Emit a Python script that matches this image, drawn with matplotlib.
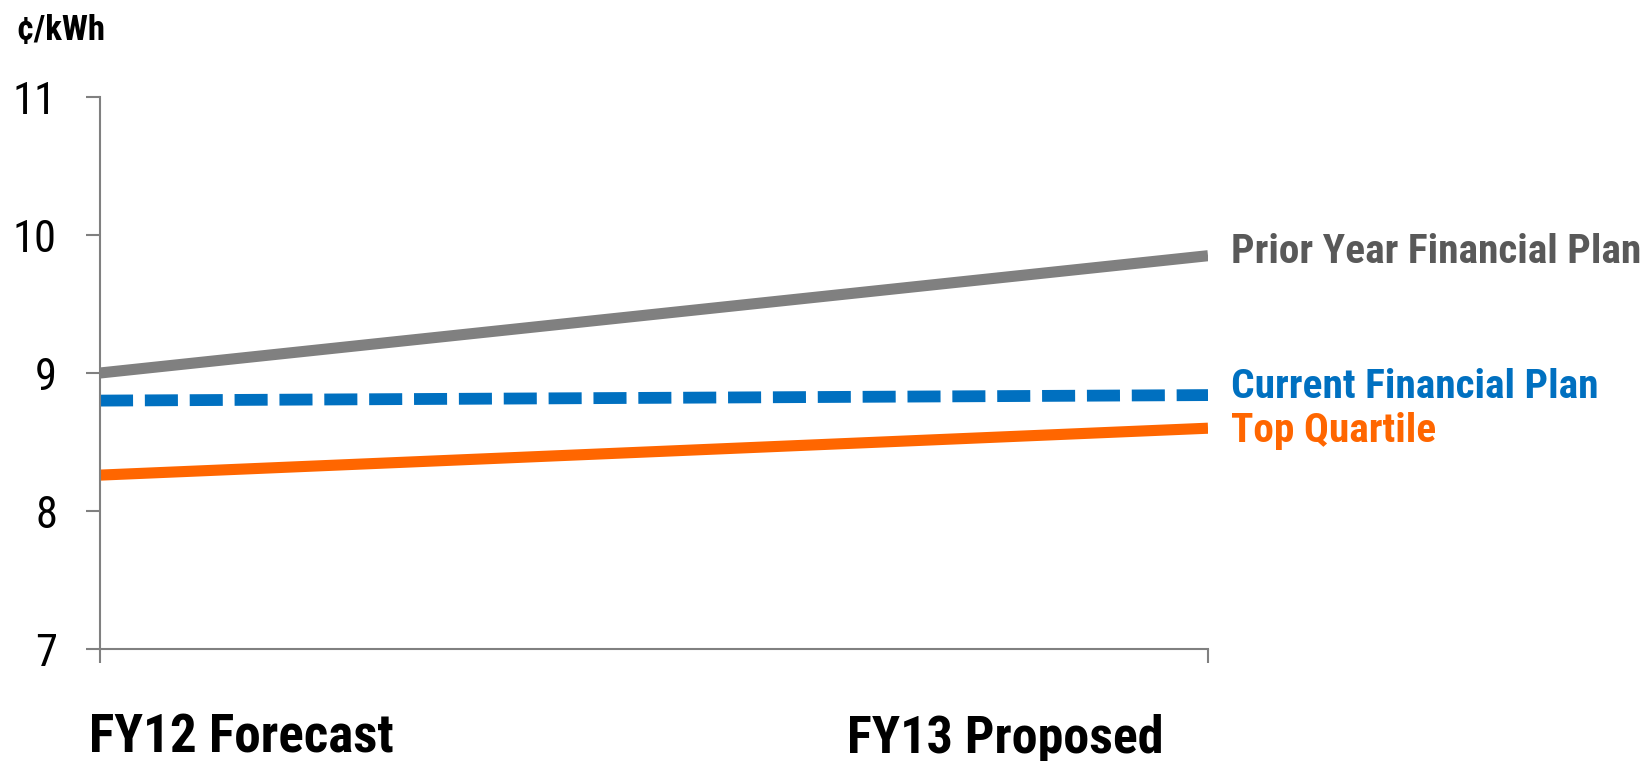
import matplotlib
matplotlib.use("Agg")
import matplotlib.pyplot as plt
from matplotlib import font_manager

# look for a narrow face (the original uses Arial Narrow), else plain Liberation Sans
names = {f.name for f in font_manager.fontManager.ttflist}
narrow = "Liberation Sans"
for cand in ["Liberation Sans Narrow", "Arial Narrow", "Roboto Condensed", "Open Sans Condensed"]:
    if cand in names:
        narrow = cand
        break
plt.rcParams['font.family'] = [narrow, "DejaVu Sans"]

categories = ["FY12 Forecast", "FY13 Proposed"]
prior_year = [9.0, 9.85]
current_plan = [8.80, 8.84]
top_quartile = [8.26, 8.60]
series_names = ["Prior Year Financial Plan", "Current Financial Plan", "Top Quartile"]
yticks = [7, 8, 9, 10, 11]

x = [0, 1]
fig = plt.figure(figsize=(16.52, 7.61), dpi=100)
ax = fig.add_axes([100 / 1652, 1 - 649 / 761, 1108 / 1652, 552 / 761])

ax.plot(x, prior_year, color="#808080", linewidth=8, solid_capstyle="butt")
ax.plot(x, current_plan, color="#0070C0", linewidth=8.5, linestyle=(0, (2.8, 1.0)),
        dash_capstyle="butt")
ax.plot(x, top_quartile, color="#FF6600", linewidth=8, solid_capstyle="butt")

ax.set_xlim(0, 1)
ax.set_ylim(7, 11)
ax.set_yticks(yticks)
ax.set_xticks(x)
ax.set_xticklabels(["", ""])
for s in ["top", "right"]:
    ax.spines[s].set_visible(False)
for s in ["left", "bottom"]:
    ax.spines[s].set_color("#808080")
    ax.spines[s].set_linewidth(1.5)
ax.tick_params(axis="y", length=10, width=1.5, color="#808080", pad=21, labelsize=32)
ax.tick_params(axis="x", length=10, width=1.5, color="#808080")

renderer = fig.canvas.get_renderer()


def fit(t, target_px, max_size):
    # shrink a text until its width is about target_px
    for _ in range(3):
        w = t.get_window_extent(renderer).width
        t.set_fontsize(min(max_size, t.get_fontsize() * target_px / w))
    return t.get_fontsize()


# category labels (text boxes in the original, not under the ticks)
c1 = ax.text(0.128, -0.188, categories[0], transform=ax.transAxes, ha="center",
             va="baseline", fontsize=37, fontweight="bold")
c2 = ax.text(0.817, -0.188, categories[1], transform=ax.transAxes, ha="center",
             va="baseline", fontsize=37, fontweight="bold")
fit(c1, 305, 40)
fit(c2, 316, 40)

# series labels at the right end
colors = ["#595959", "#0070C0", "#FF6600"]
ends = [prior_year[1], current_plan[1], top_quartile[1]]
dys = [-7, -3, -14]
labels = []
for name, c, e, dy in zip(series_names, colors, ends, dys):
    t = ax.annotate(name, xy=(1, e), xytext=(23, dy), textcoords="offset pixels",
                    ha="left", va="baseline", fontsize=29, fontweight="bold",
                    color=c, annotation_clip=False)
    labels.append(t)
size = fit(labels[0], 410, 32)
for t in labels[1:]:
    t.set_fontsize(size)

u = fig.text(16 / 1652, 1 - 40 / 761, "¢/kWh", ha="left", va="baseline", fontsize=21,
             fontweight="bold")
fit(u, 89, 26)

fig.savefig("out.png", dpi=100)
